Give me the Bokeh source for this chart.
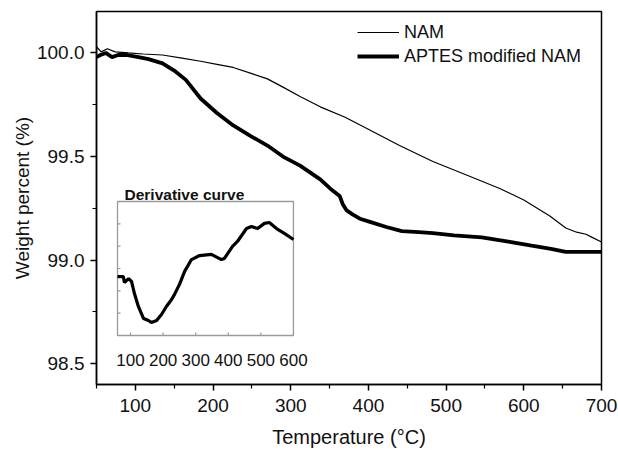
from bokeh.plotting import figure
from bokeh.models import Range1d, Legend, LegendItem, NumeralTickFormatter, FixedTicker
from bokeh.core.properties import value
from bokeh.embed import file_html
from bokeh.resources import INLINE

# ---------------- data ----------------
temp_nam = [50, 56, 64, 74, 91, 110, 135, 160, 184, 205, 226, 250, 270, 290, 312,
            338, 370, 398, 440, 483, 527, 569, 600, 633, 654, 668, 680, 688, 700]
wt_nam = [100.03, 100.005, 100.02, 100.005, 100.0, 99.995, 99.99, 99.975, 99.96,
          99.945, 99.93, 99.90, 99.875, 99.835, 99.79, 99.74, 99.69, 99.635,
          99.553, 99.476, 99.41, 99.346, 99.29, 99.214, 99.155, 99.135, 99.125,
          99.11, 99.088]

temp_aptes = [50, 55, 62, 70, 78, 90, 104, 117, 135, 150, 165, 184, 205, 226, 248,
              270, 290, 312, 338, 351, 363, 367, 372, 380, 389, 402, 423, 443, 465,
              483, 510, 546, 580, 610, 635, 654, 675, 700]
wt_aptes = [99.98, 99.99, 100.0, 99.98, 99.99, 99.99, 99.98, 99.97, 99.95, 99.915,
            99.87, 99.78, 99.71, 99.65, 99.60, 99.553, 99.50, 99.456, 99.39, 99.345,
            99.31, 99.27, 99.24, 99.22, 99.20, 99.185, 99.16, 99.14, 99.135, 99.13,
            99.12, 99.11, 99.09, 99.07, 99.055, 99.04, 99.04, 99.04]

deriv_temp = [60, 78, 81, 94, 103, 112, 124, 140, 155, 164, 180, 195, 210, 226, 235,
              250, 266, 287, 312, 348, 379, 388, 413, 428, 456, 471, 490, 511, 526,
              548, 572, 600]
deriv_val = [2.64, 2.64, 2.37, 2.55, 2.42, 1.88, 1.30, 0.76, 0.67, 0.58, 0.67, 0.94,
             1.30, 1.61, 1.84, 2.28, 2.87, 3.40, 3.58, 3.63, 3.40, 3.45, 3.99, 4.21,
             4.79, 4.88, 4.79, 5.02, 5.06, 4.79, 4.57, 4.30]

x_ticks = [100, 200, 300, 400, 500, 600, 700]
y_ticks = [98.5, 99.0, 99.5, 100.0]
inset_x_ticks = [100, 200, 300, 400, 500, 600]
inset_x_labels = ["100", "200", "300", "400", "500", "600"]
inset_y_ticks = [1, 2, 3, 4, 5]

series_names = ["NAM", "APTES modified NAM"]
inset_title = "Derivative curve"
x_label = "Temperature (°C)"
y_label = "Weight percent (%)"

# ---------------- layout constants ----------------
FONT = "Liberation Sans"
W, H = 617, 455
X_RANGE = (50, 700)
Y_RANGE = (98.4, 100.2)
BORDER_L, BORDER_R, BORDER_T, BORDER_B = 96, 16, 11, 71
FRAME_W = W - BORDER_L - BORDER_R
FRAME_H = H - BORDER_T - BORDER_B

# inset box in fractions of the main frame (left, right, bottom, top)
IN_L, IN_R, IN_B, IN_T = 0.0416, 0.390, 0.1314, 0.4906
INSET_XD = (60, 600)
INSET_YD = (0, 6)

span_x = (INSET_XD[1] - INSET_XD[0]) / (IN_R - IN_L)
ix0 = INSET_XD[0] - IN_L * span_x
span_y = (INSET_YD[1] - INSET_YD[0]) / (IN_T - IN_B)
iy0 = INSET_YD[0] - IN_B * span_y
px_x = span_x / FRAME_W      # inset x units per pixel
px_y = span_y / FRAME_H      # inset y units per pixel

p = figure(width=W, height=H, x_range=Range1d(*X_RANGE), y_range=Range1d(*Y_RANGE),
           output_backend="svg", toolbar_location=None,
           min_border_left=BORDER_L, min_border_right=BORDER_R,
           min_border_top=BORDER_T, min_border_bottom=BORDER_B)
p.extra_x_ranges["ix"] = Range1d(ix0, ix0 + span_x)
p.extra_y_ranges["iy"] = Range1d(iy0, iy0 + span_y)

p.xgrid.visible = False
p.ygrid.visible = False
p.outline_line_color = "black"
p.outline_line_width = 1.5
p.background_fill_color = "white"
p.border_fill_color = "white"

x_minor = [t - 50 for t in x_ticks]
y_minor = [t + 0.25 for t in y_ticks[:-1]]
p.xaxis.ticker = FixedTicker(ticks=x_ticks, minor_ticks=x_minor)
p.yaxis.ticker = FixedTicker(ticks=y_ticks, minor_ticks=y_minor)
p.yaxis.formatter = NumeralTickFormatter(format="0.0")

for ax in (p.xaxis[0], p.yaxis[0]):
    ax.axis_line_color = "black"
    ax.axis_line_width = 1.5
    ax.major_tick_line_color = "black"
    ax.major_tick_line_width = 1.5
    ax.minor_tick_line_color = "black"
    ax.minor_tick_line_width = 1.2
    ax.major_tick_in = 0
    ax.major_tick_out = 6
    ax.minor_tick_in = 0
    ax.minor_tick_out = 4
    ax.major_label_text_font = FONT
    ax.major_label_text_font_size = "19px"
    ax.major_label_text_color = "#111111"
    ax.major_label_standoff = 6
    ax.axis_label_text_font = FONT
    ax.axis_label_text_font_style = "normal"
    ax.axis_label_text_color = "#111111"

p.xaxis.major_label_standoff = 8
p.xaxis.axis_label = x_label
p.xaxis.axis_label_text_font_size = "20px"
p.xaxis.axis_label_standoff = 11
p.yaxis.axis_label = y_label
p.yaxis.axis_label_text_font_size = "19px"
p.yaxis.axis_label_standoff = 1

# main curves
r_nam = p.line(temp_nam, wt_nam, line_color="black", line_width=1.2)
r_aptes = p.line(temp_aptes, wt_aptes, line_color="black", line_width=3.8)

LEG_ROW = 24
legend = Legend(items=[LegendItem(label=series_names[0], renderers=[r_nam]),
                       LegendItem(label=series_names[1], renderers=[r_aptes])],
                location=(261, FRAME_H - 9 - 2 * LEG_ROW))
legend.border_line_color = None
legend.background_fill_alpha = 0
legend.padding = 0
legend.margin = 0
legend.spacing = 0
legend.glyph_width = 42
legend.glyph_height = LEG_ROW
legend.label_height = LEG_ROW
legend.label_standoff = 5
legend.label_text_font = FONT
legend.label_text_font_size = "18px"
legend.label_text_color = "#111111"
p.add_layout(legend)

# ---------------- inset ----------------
INSET_GRAY = "#9a9a9a"
p.quad(left=[INSET_XD[0]], right=[INSET_XD[1]], bottom=[INSET_YD[0]], top=[INSET_YD[1]],
       fill_color=None, line_color=INSET_GRAY, line_width=1.3,
       x_range_name="ix", y_range_name="iy")
tick_len_px = 3
p.segment(x0=inset_x_ticks, y0=[INSET_YD[0]] * len(inset_x_ticks),
          x1=inset_x_ticks, y1=[INSET_YD[0] + tick_len_px * px_y] * len(inset_x_ticks),
          line_color=INSET_GRAY, line_width=1.2, x_range_name="ix", y_range_name="iy")
p.segment(x0=[INSET_XD[0]] * len(inset_y_ticks), y0=inset_y_ticks,
          x1=[INSET_XD[0] + tick_len_px * px_x] * len(inset_y_ticks), y1=inset_y_ticks,
          line_color=INSET_GRAY, line_width=1.2, x_range_name="ix", y_range_name="iy")
p.text(x=inset_x_ticks, y=[INSET_YD[0] - 25 * px_y] * len(inset_x_ticks),
       text=inset_x_labels, text_font=value(FONT), text_font_size="17px",
       text_color="#111111", text_align="center", text_baseline="middle",
       x_range_name="ix", y_range_name="iy")
p.text(x=[INSET_XD[0] + 7 * px_x], y=[INSET_YD[1] + 7 * px_y], text=[inset_title],
       text_font=value(FONT), text_font_size="15.5px", text_font_style="bold",
       text_color="#111111", text_align="left", text_baseline="alphabetic",
       x_range_name="ix", y_range_name="iy")
p.line(deriv_temp, deriv_val, line_color="black", line_width=3.2,
       x_range_name="ix", y_range_name="iy")

open("out.html", "w").write(file_html(p, INLINE))
